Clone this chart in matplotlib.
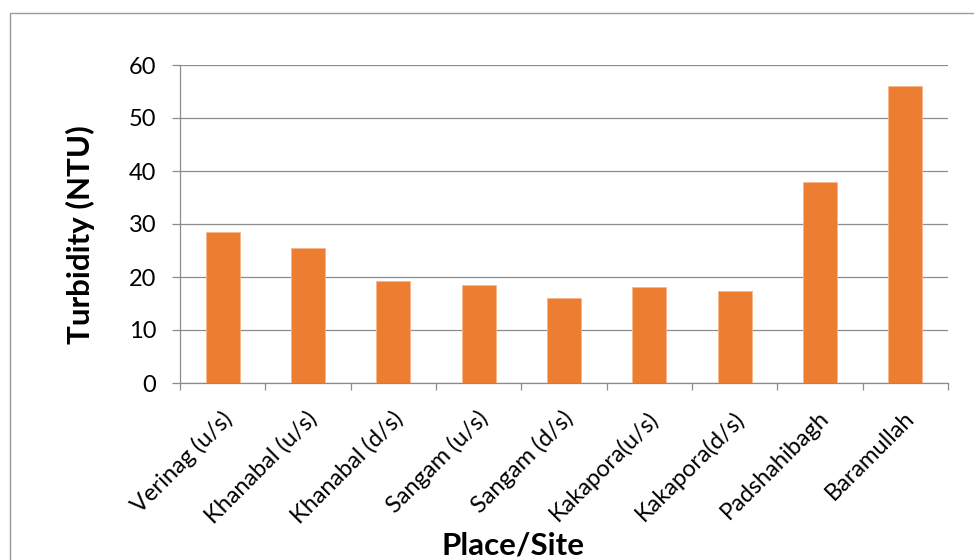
import matplotlib
matplotlib.use("Agg")
import matplotlib.pyplot as plt
import matplotlib.transforms as mtransforms
from matplotlib.patches import Rectangle
import numpy as np

plt.rcParams['font.family'] = ['Lato', 'DejaVu Sans']

sites = ["Verinag (u/s)", "Khanabal (u/s)", "Khanabal (d/s)", "Sangam (u/s)",
         "Sangam (d/s)", "Kakapora(u/s)", "Kakapora(d/s)", "Padshahibagh",
         "Baramullah"]
turbidity = [28.4, 25.4, 19.2, 18.5, 16.0, 18.1, 17.4, 37.9, 56.0]
yticks = [0, 10, 20, 30, 40, 50, 60]

W, H = 974, 560
fig = plt.figure(figsize=(W / 100, H / 100), dpi=100)
ax = fig.add_axes([180 / W, 1 - 383 / H, 768 / W, 318 / H])

grey = "#8c8c8c"
x = np.arange(len(sites))
ax.bar(x, turbidity, width=0.4, color="#ED7D31", edgecolor="#F6B88E",
       linewidth=0.6, zorder=3)

ax.set_xlim(-0.5, len(sites) - 0.5)
ax.set_ylim(0, 60)
ax.set_yticks(yticks)
ax.yaxis.grid(True, color=grey, linewidth=0.9, zorder=0)
ax.tick_params(axis='y', length=6, width=0.9, color=grey, pad=11,
               labelsize=17, labelcolor="black")

# category boundary ticks
ax.set_xticks(np.arange(-0.5, len(sites), 1.0), minor=True)
ax.tick_params(axis='x', which='minor', length=5, width=0.9, color=grey,
               direction='out')
ax.set_xticks(x)
ax.set_xticklabels(sites, rotation=45, ha='right', va='center',
                   rotation_mode='anchor', fontsize=17)
ax.tick_params(axis='x', which='major', length=0, pad=23)
offset = mtransforms.ScaledTranslation(6 / 100, 0, fig.dpi_scale_trans)
for lab in ax.get_xticklabels():
    lab.set_transform(lab.get_transform() + offset)

for s in ["top", "right"]:
    ax.spines[s].set_visible(False)
for s in ["left", "bottom"]:
    ax.spines[s].set_color(grey)
    ax.spines[s].set_linewidth(0.9)

ax.set_ylabel("Turbidity (NTU)", fontsize=22.5, fontweight='bold')
ax.yaxis.set_label_coords((80 - 180) / 768, (383 - 235) / 318)
ax.yaxis.label.set_va('center')
ax.set_xlabel("Place/Site", fontsize=22.5, fontweight='bold')
ax.xaxis.set_label_coords((513 - 180) / 768, (383 - 555) / 318)
ax.xaxis.label.set_va('baseline')

# chart frame (cut off at right and bottom)
fig.patches.append(Rectangle((10 / W, -0.1), 1.2, 1.1 + (H - 13) / H - 1.0,
                             transform=fig.transFigure, fill=False,
                             edgecolor="#9a9a9a", linewidth=1.0))

fig.savefig("out.png", dpi=100)
